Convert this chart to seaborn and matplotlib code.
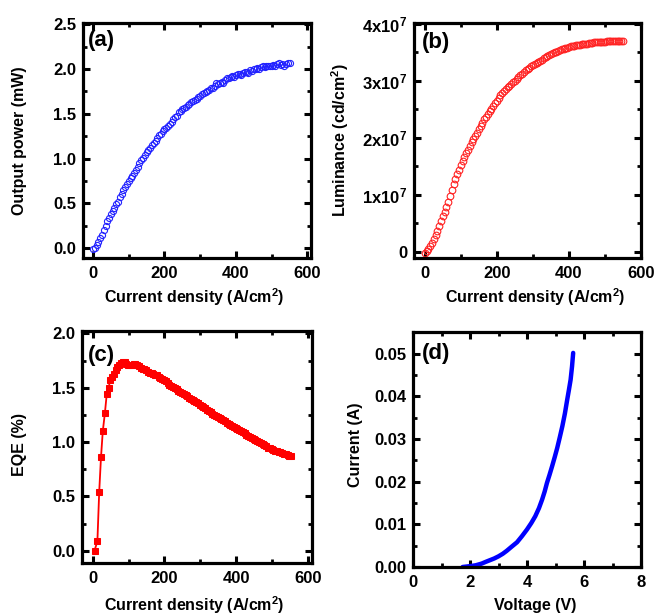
import matplotlib
matplotlib.use("Agg")
import matplotlib.pyplot as plt
import seaborn as sns
import pandas as pd
from matplotlib.ticker import MultipleLocator

# ---------------- data ----------------
# (a) Output power vs current density
a_J = [0, 5, 10, 15, 20, 25, 30, 35, 40, 45, 50, 55, 60, 65, 70, 75, 80, 85, 90, 95,
       100, 105, 110, 115, 120, 125, 130, 135, 140, 145, 150, 155, 160, 165, 170, 175,
       180, 185, 190, 195, 200, 205, 210, 215, 220, 225, 230, 235, 240, 245, 250, 255,
       260, 265, 270, 275, 280, 285, 290, 295, 300, 305, 310, 315, 320, 325, 330, 335,
       340, 345, 350, 355, 360, 365, 370, 375, 380, 385, 390, 395, 400, 405, 410, 415,
       420, 425, 430, 435, 440, 445, 450, 455, 460, 465, 470, 475, 480, 485, 490, 495,
       500, 505, 510, 515, 520, 525, 530, 535, 540, 545, 550]
a_P = [-0.01, 0.00, 0.03, 0.07, 0.11, 0.15, 0.20, 0.25, 0.30, 0.34, 0.38, 0.42, 0.45, 0.49,
       0.52, 0.57, 0.60, 0.65, 0.68, 0.72, 0.75, 0.78, 0.81, 0.84, 0.87, 0.91, 0.95, 0.98,
       1.01, 1.04, 1.07, 1.10, 1.12, 1.15, 1.17, 1.20, 1.23, 1.26, 1.28, 1.31, 1.33, 1.34,
       1.37, 1.39, 1.41, 1.44, 1.46, 1.48, 1.52, 1.53, 1.55, 1.56, 1.58, 1.60, 1.61, 1.63,
       1.64, 1.66, 1.67, 1.69, 1.70, 1.72, 1.73, 1.74, 1.76, 1.77, 1.79, 1.79, 1.81, 1.84,
       1.83, 1.85, 1.86, 1.85, 1.88, 1.90, 1.90, 1.91, 1.92, 1.91, 1.93, 1.94, 1.95, 1.93,
       1.96, 1.97, 1.97, 1.96, 1.99, 1.98, 2.00, 2.00, 2.01, 2.00, 2.02, 2.03, 2.02, 2.03,
       2.03, 2.04, 2.04, 2.05, 2.04, 2.06, 2.07, 2.05, 2.06, 2.04, 2.06, 2.07, 2.07]

# (b) Luminance vs current density (units of 1e7 cd/cm2)
b_J = a_J
b_L = [-0.03, 0.01, 0.05, 0.10, 0.16, 0.22, 0.29, 0.37, 0.45, 0.53, 0.62, 0.70, 0.79, 0.88,
       0.98, 1.08, 1.18, 1.27, 1.36, 1.44, 1.52, 1.59, 1.66, 1.73, 1.79, 1.85, 1.92, 1.98,
       2.03, 2.09, 2.15, 2.21, 2.26, 2.32, 2.37, 2.42, 2.46, 2.51, 2.56, 2.60, 2.65, 2.70,
       2.74, 2.78, 2.81, 2.85, 2.88, 2.91, 2.94, 2.97, 3.00, 3.03, 3.06, 3.09, 3.12, 3.15,
       3.18, 3.20, 3.22, 3.25, 3.27, 3.29, 3.31, 3.33, 3.35, 3.37, 3.39, 3.41, 3.43, 3.45,
       3.47, 3.48, 3.50, 3.51, 3.52, 3.54, 3.55, 3.56, 3.57, 3.58, 3.59, 3.60, 3.61, 3.61,
       3.62, 3.63, 3.63, 3.64, 3.64, 3.65, 3.65, 3.66, 3.66, 3.66, 3.67, 3.67, 3.67, 3.68,
       3.68, 3.68, 3.68, 3.69, 3.69, 3.69, 3.69, 3.69, 3.69, 3.70, 3.70, 3.70, 3.70]

# (c) EQE vs current density
c_J = [5, 13, 18, 23, 28, 34, 39, 44, 49, 54, 59, 64, 69, 74, 79, 84, 89, 94, 99, 104,
       109, 114, 119, 124, 129, 134, 139, 144, 149, 154, 159, 164, 169, 174, 179, 184,
       189, 194, 199, 204, 209, 214, 219, 224, 229, 234, 239, 244, 249, 254, 259, 264,
       269, 274, 279, 284, 289, 294, 299, 304, 309, 314, 319, 324, 329, 334, 339, 344,
       349, 354, 359, 364, 369, 374, 379, 384, 389, 394, 399, 404, 409, 414, 419, 424,
       429, 434, 439, 444, 449, 454, 459, 464, 469, 474, 479, 484, 489, 494, 499, 504,
       509, 514, 519, 524, 529, 534, 539, 544, 549, 554]
c_EQE = [0.00, 0.09, 0.54, 0.86, 1.10, 1.27, 1.44, 1.50, 1.57, 1.60, 1.63, 1.66, 1.69, 1.71,
         1.73, 1.74, 1.74, 1.72, 1.71, 1.71, 1.71, 1.72, 1.72, 1.71, 1.70, 1.68, 1.67, 1.67,
         1.66, 1.65, 1.64, 1.64, 1.63, 1.62, 1.62, 1.60, 1.59, 1.58, 1.57, 1.56, 1.54, 1.53,
         1.52, 1.51, 1.50, 1.49, 1.47, 1.46, 1.45, 1.44, 1.43, 1.42, 1.41, 1.40, 1.39, 1.38,
         1.37, 1.36, 1.34, 1.33, 1.32, 1.31, 1.30, 1.29, 1.28, 1.26, 1.25, 1.24, 1.23, 1.22,
         1.21, 1.20, 1.19, 1.18, 1.17, 1.16, 1.15, 1.14, 1.13, 1.12, 1.11, 1.10, 1.09, 1.08,
         1.07, 1.06, 1.05, 1.04, 1.03, 1.02, 1.01, 1.00, 0.99, 0.98, 0.97, 0.96, 0.95, 0.95,
         0.94, 0.93, 0.92, 0.92, 0.91, 0.91, 0.90, 0.89, 0.89, 0.88, 0.87, 0.87]

# (d) Current vs voltage
d_V = [1.74, 2.0, 2.2, 2.41, 2.55, 2.7, 2.85, 3.0, 3.15, 3.29, 3.45, 3.65, 3.82, 4.0,
       4.15, 4.29, 4.42, 4.53, 4.62, 4.7, 4.79, 4.88, 4.97, 5.06, 5.15, 5.24, 5.33,
       5.41, 5.47, 5.53, 5.58, 5.62]
d_I = [0.0, 0.0002, 0.0004, 0.0008, 0.0012, 0.0016, 0.0020, 0.0025, 0.0031, 0.0038,
       0.0047, 0.0058, 0.0072, 0.0088, 0.0103, 0.0119, 0.0138, 0.0158, 0.0177, 0.0197,
       0.0216, 0.0236, 0.0257, 0.0279, 0.0304, 0.0330, 0.0360, 0.0392, 0.0415, 0.0439,
       0.0470, 0.0502]

b_yticks = [0, 1e7, 2e7, 3e7, 4e7]
b_yticklabels = ["0", "1x10$^7$", "2x10$^7$", "3x10$^7$", "4x10$^7$"]

# ---------------- style ----------------
sns.set_style("ticks")
plt.rcParams["font.family"] = ["Liberation Sans", "DejaVu Sans"]
plt.rcParams["font.weight"] = "bold"
plt.rcParams["axes.labelweight"] = "bold"
plt.rcParams["text.color"] = "black"
plt.rcParams["axes.labelcolor"] = "black"
plt.rcParams["xtick.color"] = "black"
plt.rcParams["ytick.color"] = "black"
plt.rcParams["mathtext.fontset"] = "custom"
plt.rcParams["mathtext.rm"] = "Liberation Sans:bold"
plt.rcParams["mathtext.bf"] = "Liberation Sans:bold"
plt.rcParams["mathtext.default"] = "bf"

W, H = 654, 614
fig = plt.figure(figsize=(W / 100, H / 100), dpi=100)


def add_ax(l, r, t, b):
    return fig.add_axes([l / W, 1 - b / H, (r - l) / W, (b - t) / H])


ax_a = add_ax(83, 311, 23, 258)
ax_b = add_ax(414, 641, 23, 258)
ax_c = add_ax(82, 312, 331, 563)
ax_d = add_ax(413, 641, 332, 567)

TICK = 12


def style(ax, xmaj, xmin, ymaj, ymin):
    for s in ax.spines.values():
        s.set_visible(True)
        s.set_linewidth(2.3)
        s.set_color("black")
    ax.xaxis.set_major_locator(MultipleLocator(xmaj))
    ax.xaxis.set_minor_locator(MultipleLocator(xmin))
    if ymaj is not None:
        ax.yaxis.set_major_locator(MultipleLocator(ymaj))
    ax.yaxis.set_minor_locator(MultipleLocator(ymin))
    ax.tick_params(which="both", direction="in", top=True, right=True,
                   labelsize=TICK, colors="black", labelcolor="black")
    ax.tick_params(axis="x", which="both", pad=6)
    ax.tick_params(axis="y", which="both", pad=5)
    ax.tick_params(which="major", length=5, width=2.2)
    ax.tick_params(which="minor", length=3, width=2.0)
    ax.grid(False)


LBL = 11.5
PANEL = 16

# (a)
df_a = pd.DataFrame({"J": a_J, "P": a_P})
sns.lineplot(data=df_a, x="J", y="P", ax=ax_a, marker="o", linestyle="none",
             markerfacecolor="none", markeredgecolor="#2222ff", markeredgewidth=0.8,
             markersize=4.4, estimator=None, sort=False, legend=False)
ax_a.set_xlim(-28, 610)
ax_a.set_ylim(-0.11, 2.515)
style(ax_a, 200, 100, 0.5, 0.25)
ax_a.set_xlabel("Current density (A/cm$^2$)", fontsize=LBL, color="black")
ax_a.set_ylabel("Output power (mW)", fontsize=LBL, color="black")
ax_a.xaxis.set_label_coords(0.49, -0.119)
ax_a.yaxis.set_label_coords(-0.246, 0.50)
ax_a.text(0.02, 0.97, "(a)", transform=ax_a.transAxes, fontsize=PANEL,
          fontweight="bold", va="top", ha="left", color="black")

# (b)
df_b = pd.DataFrame({"J": b_J, "L": [v * 1e7 for v in b_L]})
sns.lineplot(data=df_b, x="J", y="L", ax=ax_b, marker="o", linestyle="none",
             markerfacecolor="none", markeredgecolor="#ff2222", markeredgewidth=0.8,
             markersize=4.8, estimator=None, sort=False, legend=False)
ax_b.set_xlim(-30, 600)
ax_b.set_ylim(-0.11e7, 4.01e7)
style(ax_b, 200, 100, None, 0.5e7)
ax_b.set_yticks(b_yticks, labels=b_yticklabels)
ax_b.set_xlabel("Current density (A/cm$^2$)", fontsize=LBL, color="black")
ax_b.set_ylabel("Luminance (cd/cm$^2$)", fontsize=LBL, color="black")
ax_b.xaxis.set_label_coords(0.533, -0.119)
ax_b.yaxis.set_label_coords(-0.278, 0.50)
ax_b.text(0.035, 0.96, "(b)", transform=ax_b.transAxes, fontsize=PANEL,
          fontweight="bold", va="top", ha="left", color="black")

# (c)
df_c = pd.DataFrame({"J": c_J, "EQE": c_EQE})
sns.lineplot(data=df_c, x="J", y="EQE", ax=ax_c, marker="s", color="#ff0000",
             linewidth=1.3, markeredgecolor="#ff0000", markersize=4.2,
             estimator=None, sort=False, legend=False)
ax_c.set_xlim(-30, 612)
ax_c.set_ylim(-0.113, 2.023)
style(ax_c, 200, 100, 0.5, 0.25)
ax_c.set_xlabel("Current density (A/cm$^2$)", fontsize=LBL, color="black")
ax_c.set_ylabel("EQE (%)", fontsize=LBL, color="black")
ax_c.xaxis.set_label_coords(0.49, -0.134)
ax_c.yaxis.set_label_coords(-0.239, 0.51)
ax_c.text(0.025, 0.94, "(c)", transform=ax_c.transAxes, fontsize=PANEL,
          fontweight="bold", va="top", ha="left", color="black")

# (d)
df_d = pd.DataFrame({"V": d_V, "I": d_I})
sns.lineplot(data=df_d, x="V", y="I", ax=ax_d, color="#0000ff", linewidth=3.2,
             estimator=None, sort=False, legend=False)
ax_d.set_xlim(0, 8)
ax_d.set_ylim(0, 0.0551)
style(ax_d, 2, 1, 0.01, 0.005)
ax_d.set_xlabel("Voltage (V)", fontsize=LBL, color="black")
ax_d.set_ylabel("Current (A)", fontsize=LBL, color="black")
ax_d.xaxis.set_label_coords(0.537, -0.132)
ax_d.yaxis.set_label_coords(-0.219, 0.52)
ax_d.text(0.04, 0.955, "(d)", transform=ax_d.transAxes, fontsize=PANEL,
          fontweight="bold", va="top", ha="left", color="black")

fig.savefig("out.png", dpi=100)
